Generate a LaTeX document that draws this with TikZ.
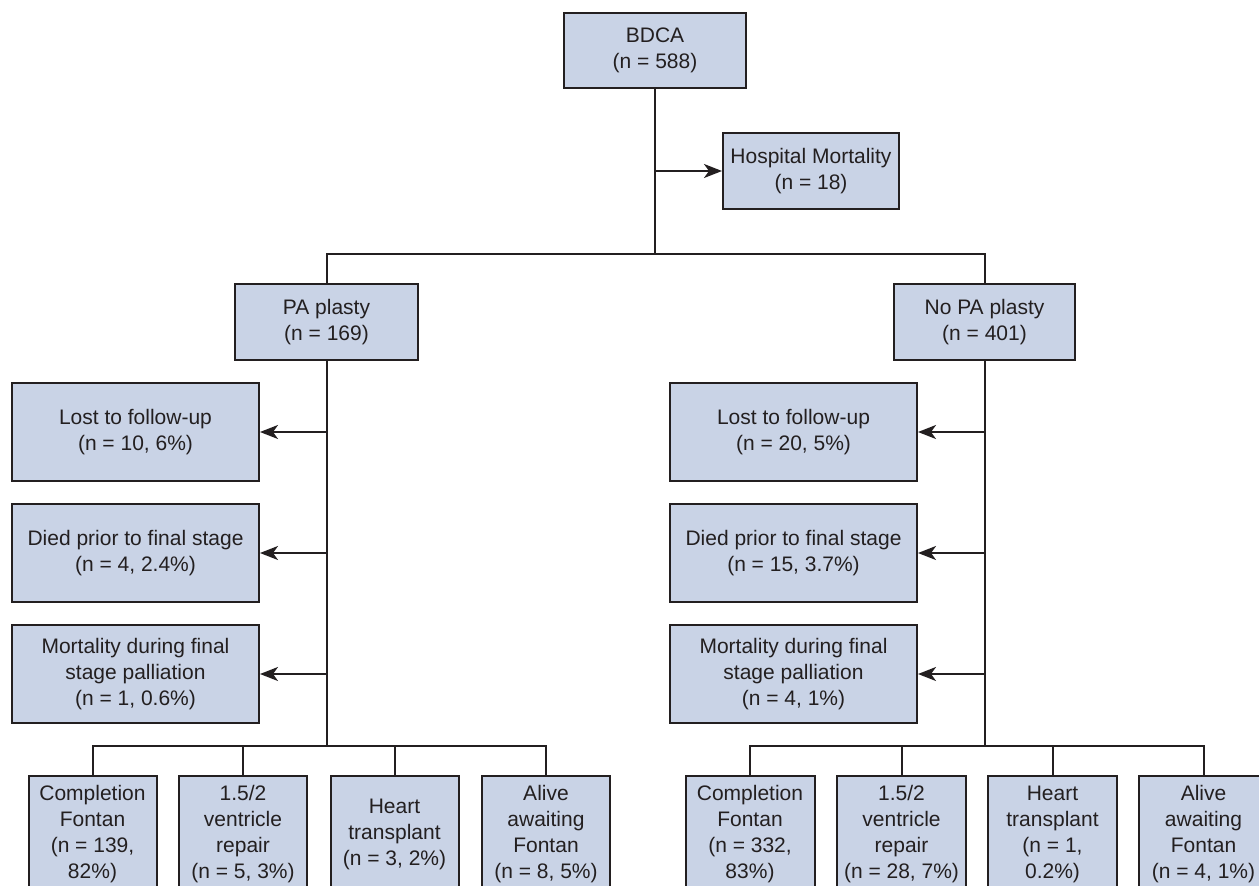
\documentclass[tikz,border=0pt]{standalone}
\usepackage{fontspec}
\setmainfont{Liberation Sans}
\usetikzlibrary{arrows.meta}
\definecolor{boxfill}{RGB}{201,211,230}
\definecolor{ink}{RGB}{35,31,32}
\tikzset{
  box/.style={draw=ink, fill=boxfill, line width=2pt, align=center, inner sep=2pt,
    font=\fontsize{21}{26}\selectfont, text=ink},
  conn/.style={draw=ink, line width=2pt},
  arr/.style={conn, -{Stealth[length=18pt,width=14pt,inset=5pt]}}
}
\begin{document}
\begin{tikzpicture}[x=1pt,y=-1pt]
\useasboundingbox (0,0) rectangle (1259,886);
\clip (0,0) rectangle (1259,886);
\fill[white] (0,0) rectangle (1259,886);
% top
\node[box, minimum width=182pt, minimum height=75pt] (bdca) at (655,50.5) {BDCA\\(n = 588)};
\node[box, minimum width=176pt, minimum height=76pt] (hosp) at (811,171) {Hospital Mortality\\(n = 18)};
\node[box, minimum width=183pt, minimum height=76pt] (pa) at (326.5,322) {PA plasty\\(n = 169)};
\node[box, minimum width=181pt, minimum height=76pt] (nopa) at (984.5,322) {No PA plasty\\(n = 401)};
% left side
\node[box, minimum width=247pt, minimum height=98pt] (l1) at (135.5,432) {Lost to follow-up\\(n = 10, 6\%)};
\node[box, minimum width=247pt, minimum height=98pt] (l2) at (135.5,553) {Died prior to final stage\\(n = 4, 2.4\%)};
\node[box, minimum width=247pt, minimum height=98pt] (l3) at (135.5,674) {Mortality during final\\stage palliation\\(n = 1, 0.6\%)};
% right side
\node[box, minimum width=247pt, minimum height=98pt] (r1) at (793.5,432) {Lost to follow-up\\(n = 20, 5\%)};
\node[box, minimum width=247pt, minimum height=98pt] (r2) at (793.5,553) {Died prior to final stage\\(n = 15, 3.7\%)};
\node[box, minimum width=247pt, minimum height=98pt] (r3) at (793.5,674) {Mortality during final\\stage palliation\\(n = 4, 1\%)};
% bottom left
\node[box, minimum width=128pt, minimum height=116pt] (b1) at (92.5,834) {Completion\\Fontan\\(n = 139,\\82\%)};
\node[box, minimum width=128pt, minimum height=116pt] (b2) at (243,834) {1.5/2\\ventricle\\repair\\(n = 5, 3\%)};
\node[box, minimum width=128pt, minimum height=116pt] (b3) at (394.5,834) {Heart\\transplant\\(n = 3, 2\%)};
\node[box, minimum width=128pt, minimum height=116pt] (b4) at (546,834) {Alive\\awaiting\\Fontan\\(n = 8, 5\%)};
% bottom right
\node[box, minimum width=129pt, minimum height=116pt] (c1) at (750,834) {Completion\\Fontan\\(n = 332,\\83\%)};
\node[box, minimum width=129pt, minimum height=116pt] (c2) at (901.5,834) {1.5/2\\ventricle\\repair\\(n = 28, 7\%)};
\node[box, minimum width=129pt, minimum height=116pt] (c3) at (1052.5,834) {Heart\\transplant\\(n = 1,\\0.2\%)};
\node[box, minimum width=129pt, minimum height=116pt] (c4) at (1203.5,834) {Alive\\awaiting\\Fontan\\(n = 4, 1\%)};
% junctions
\coordinate (jtop) at (655,254);
\coordinate (lbot) at (326.5,746);
\coordinate (rbot) at (984.5,746);
% connectors
\draw[conn] (bdca.south) -- (jtop);
\draw[arr] (bdca.south |- hosp.west) -- (hosp.west);
\draw[conn] (pa.north) |- (jtop) -| (nopa.north);
\draw[conn] (pa.south) -- (lbot);
\draw[conn] (nopa.south) -- (rbot);
\draw[arr] (pa.south |- l1.east) -- (l1.east);
\draw[arr] (pa.south |- l2.east) -- (l2.east);
\draw[arr] (pa.south |- l3.east) -- (l3.east);
\draw[arr] (nopa.south |- r1.east) -- (r1.east);
\draw[arr] (nopa.south |- r2.east) -- (r2.east);
\draw[arr] (nopa.south |- r3.east) -- (r3.east);
\draw[conn] (b1.north) |- (lbot) -| (b4.north);
\draw[conn] (b2.north) -- (b2.north |- lbot);
\draw[conn] (b3.north) -- (b3.north |- lbot);
\draw[conn] (c1.north) |- (rbot) -| (c4.north);
\draw[conn] (c2.north) -- (c2.north |- rbot);
\draw[conn] (c3.north) -- (c3.north |- rbot);
\end{tikzpicture}
\end{document}
